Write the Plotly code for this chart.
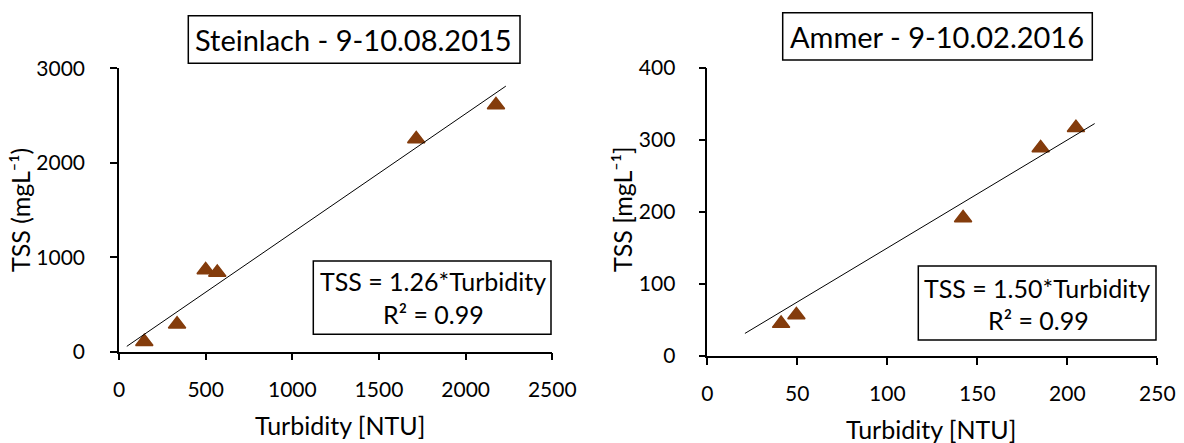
import plotly.graph_objects as go

# ---- data ----
stein_turb = [146, 335, 500, 567, 1715, 2175]
stein_tss = [105, 290, 865, 838, 2252, 2612]
stein_slope = 1.26
stein_fit_x = [45, 2232]

ammer_turb = [41.0, 49.5, 142.1, 185.2, 204.8]
ammer_tss = [45, 57, 191.6, 289, 317]
ammer_slope = 1.50
ammer_fit_x = [20.9, 215.2]

titles = ["Steinlach - 9-10.08.2015", "Ammer - 9-10.02.2016"]
eq_texts = ["TSS = 1.26*Turbidity", "TSS = 1.50*Turbidity"]
r2_texts = ["R² = 0.99", "R² = 0.99"]
x_title = "Turbidity [NTU]"
y_titles = ["TSS (mgL⁻¹)", "TSS [mgL⁻¹]"]

W, H = 1184, 443
FONT = "Lato"
MARK = "#843C0C"
TICK_SIZE = 21


def px(x):
    return x / W


def py(y):
    return 1 - y / H


fig = go.Figure()

marker = dict(symbol="triangle-up", size=15, color=MARK, line=dict(color=MARK, width=1.5))
fig.add_trace(go.Scatter(x=stein_turb, y=stein_tss, mode="markers", marker=marker,
                         xaxis="x", yaxis="y", showlegend=False))
fig.add_trace(go.Scatter(x=stein_fit_x, y=[stein_slope * v for v in stein_fit_x],
                         mode="lines", line=dict(color="black", width=1),
                         xaxis="x", yaxis="y", showlegend=False))
fig.add_trace(go.Scatter(x=ammer_turb, y=ammer_tss, mode="markers", marker=marker,
                         xaxis="x2", yaxis="y2", showlegend=False))
fig.add_trace(go.Scatter(x=ammer_fit_x, y=[ammer_slope * v for v in ammer_fit_x],
                         mode="lines", line=dict(color="black", width=1),
                         xaxis="x2", yaxis="y2", showlegend=False))


def axis(**kw):
    d = dict(showline=True, linecolor="black", linewidth=1.5, ticks="outside",
             ticklen=7, tickwidth=1.5, tickcolor="black", showgrid=False,
             zeroline=False, automargin=False,
             tickfont=dict(family=FONT, size=TICK_SIZE, color="black"))
    d.update(kw)
    return d


fig.update_layout(
    template="none",
    width=W, height=H, margin=dict(l=0, r=0, t=0, b=0, pad=0, autoexpand=False),
    paper_bgcolor="white", plot_bgcolor="white",
    font=dict(family=FONT, color="black", size=TICK_SIZE),
    xaxis=axis(domain=[px(119), px(552.3)], range=[0, 2500], dtick=500,
               anchor="y", ticklabelstandoff=11),
    yaxis=axis(domain=[py(351.7), py(68.4)], range=[0, 3000], dtick=1000,
               anchor="x", ticklabelstandoff=21),
    xaxis2=axis(domain=[px(707.3), px(1157.3)], range=[0, 250], dtick=50,
                anchor="y2", ticklabelstandoff=11),
    yaxis2=axis(domain=[py(356), py(68)], range=[0, 400], dtick=100,
                anchor="x2", ticklabelstandoff=19),
)

# boxes
boxes = [(188.3, 15.7, 520, 63.3), (782.7, 12.7, 1092.3, 60),
         (313.3, 261, 551, 334.3), (918.3, 266, 1156, 340)]
for x0, y0, x1, y1 in boxes:
    fig.add_shape(type="rect", xref="paper", yref="paper",
                  x0=px(x0), x1=px(x1), y0=py(y1), y1=py(y0),
                  line=dict(color="black", width=1.5), fillcolor="white", layer="below")

ann = []
for (cx, cy), t in zip([(353.4, 40), (936.7, 36)], titles):
    ann.append(dict(x=px(cx), y=py(cy), text=t, font=dict(size=29)))
for (cx, cy), t in zip([(433, 281), (1037.3, 287.5)], eq_texts):
    ann.append(dict(x=px(cx), y=py(cy), text=t, font=dict(size=25)))
for (cx, cy), t in zip([(433, 313.5), (1038, 320)], r2_texts):
    ann.append(dict(x=px(cx), y=py(cy), text=t, font=dict(size=25)))
for cx, cy in [(340, 425), (930.8, 429)]:
    ann.append(dict(x=px(cx), y=py(cy), text=x_title, font=dict(size=25)))
for (cx, cy), t in zip([(20, 210), (622, 209)], y_titles):
    ann.append(dict(x=px(cx), y=py(cy), text=t, textangle=-90, font=dict(size=25)))

for a in ann:
    a.update(xref="paper", yref="paper", showarrow=False, xanchor="center", yanchor="middle")
    a["font"].update(family=FONT, color="black")
fig.update_layout(annotations=ann)

fig.write_html("out.html")
